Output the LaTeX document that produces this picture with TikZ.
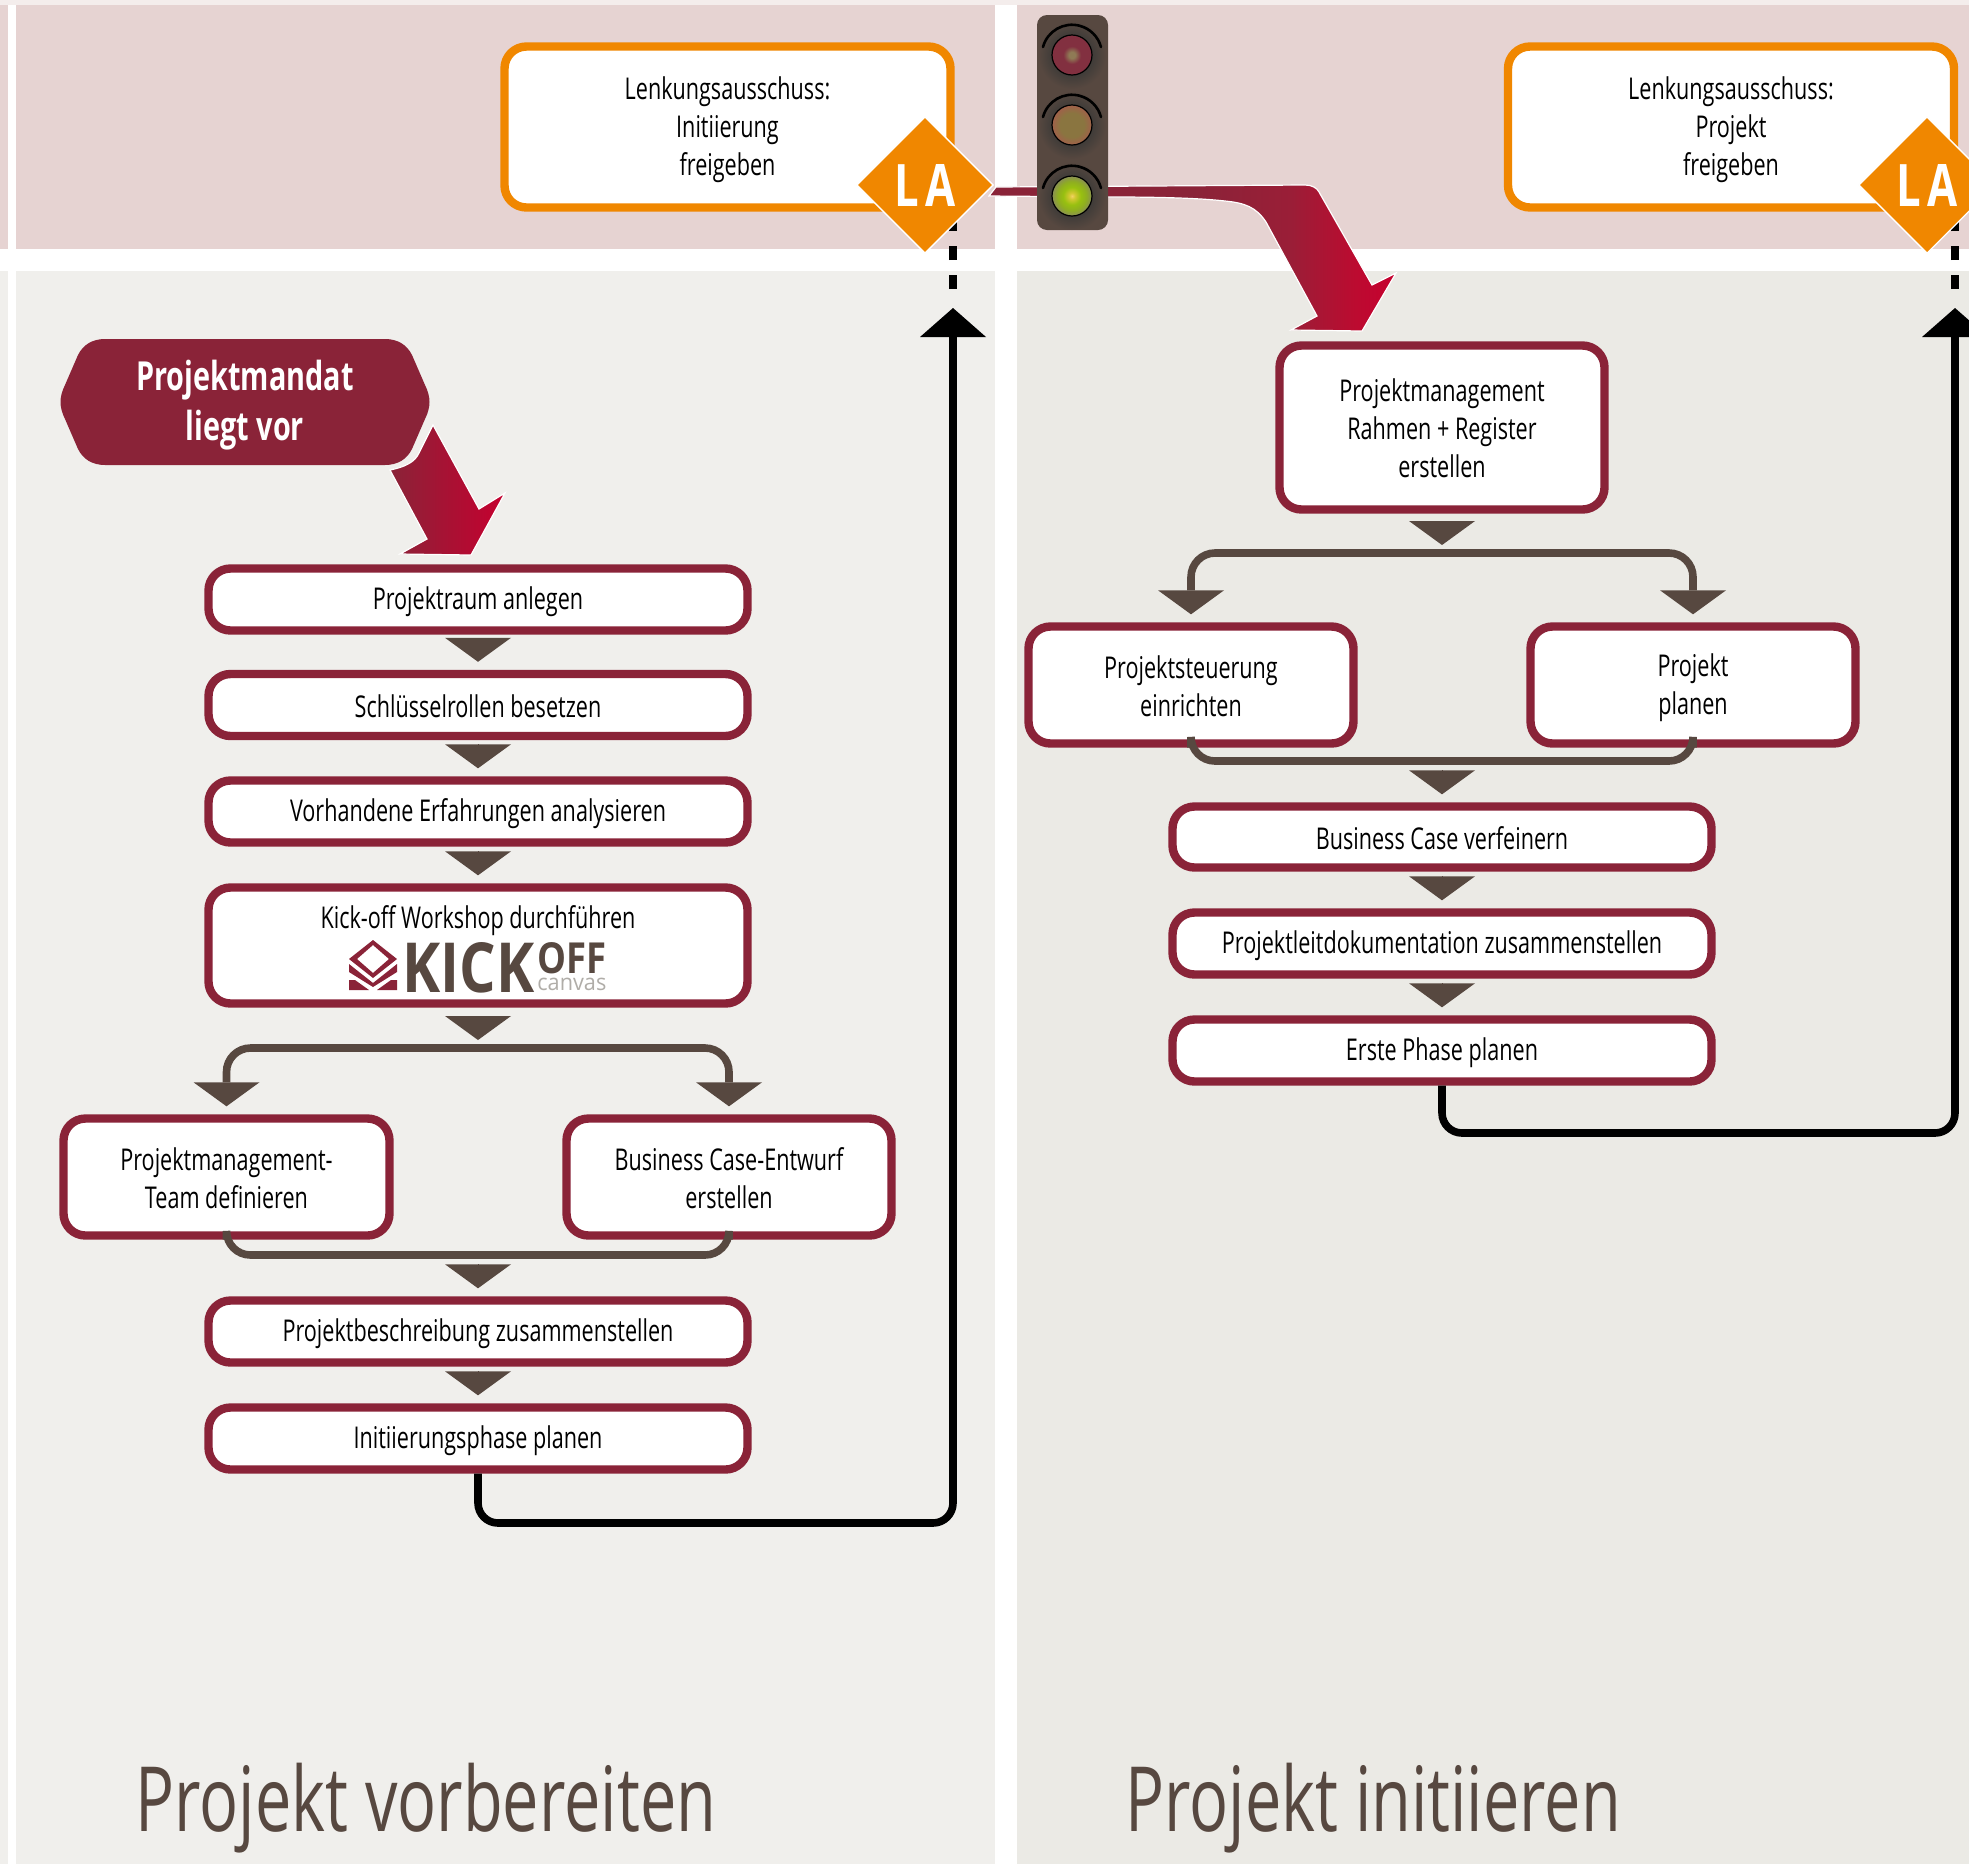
\documentclass[tikz,border=0pt]{standalone}
\usepackage{fontspec}
\usepackage{graphicx}
\usetikzlibrary{arrows.meta,shapes.geometric,calc}
\setmainfont{Open Sans}[FakeStretch=0.72]
\definecolor{crim}{HTML}{8A2338}
\definecolor{hot}{HTML}{C6002F}
\definecolor{brn}{HTML}{574840}
\definecolor{org}{HTML}{F08700}
\definecolor{pnk}{HTML}{E6D3D2}
\definecolor{pnkl}{HTML}{F4EDEC}
\definecolor{gl}{HTML}{F0EFEC}
\definecolor{gr}{HTML}{EBEAE5}
\definecolor{lgray}{HTML}{B0ADA8}
\definecolor{arrA}{HTML}{9A1E37}
\definecolor{arrB}{HTML}{BC0B30}
\definecolor{lrA}{HTML}{8F7A55}
\definecolor{lrB}{HTML}{823040}
\definecolor{laA}{HTML}{8A7540}
\definecolor{laB}{HTML}{A0604A}
\definecolor{lgA}{HTML}{F2D264}
\definecolor{lgB}{HTML}{D0C830}
\definecolor{lgC}{HTML}{98C010}
\definecolor{lgD}{HTML}{8FAE20}
\definecolor{lgE}{HTML}{8A8F55}
\definecolor{halo}{HTML}{3E3B38}
\pgfdeclarehorizontalshading{bigred}{100bp}{color(0bp)=(crim); color(50bp)=(crim); color(62bp)=(arrA); color(70bp)=(arrB); color(75bp)=(hot); color(100bp)=(hot)}
\pgfdeclareradialshading{lampred}{\pgfpoint{0bp}{0bp}}{color(0bp)=(lrA); color(4bp)=(lrA); color(11bp)=(lrB); color(50bp)=(lrB)}
\pgfdeclareradialshading{lampamb}{\pgfpoint{0bp}{0bp}}{color(0bp)=(laA); color(15bp)=(laA); color(25bp)=(laB); color(50bp)=(laB)}
\pgfdeclareradialshading{lampgrn}{\pgfpoint{0bp}{0bp}}{color(0bp)=(lgA); color(4bp)=(lgB); color(11bp)=(lgC); color(18bp)=(lgD); color(25bp)=(lgE); color(50bp)=(lgE)}
\pgfdeclareradialshading{lamphalo}{\pgfpoint{0bp}{0bp}}{color(0bp)=(halo); color(14bp)=(halo); color(25bp)=(brn); color(50bp)=(brn)}
\newcommand\st{\rule[-2pt]{0pt}{16pt}}
\newcommand\stm{\rule[-3pt]{0pt}{21pt}}
\tikzset{
 flowbox/.style={draw=crim,fill=white,line width=4.2pt,rounded corners=11pt,align=center,inner sep=0pt,font=\fontsize{15}{19}\selectfont},
 gatebox/.style={flowbox,draw=org},
 flowline/.style={draw=brn,line width=3.8pt,rounded corners=12pt},
 drop/.style={draw=brn,line width=0.1pt,shorten <=5pt,shorten >=4pt,-{Triangle[width=33pt,length=12pt,line width=0pt,fill=brn]}},
 forkline/.style={flowline,shorten <=4pt,shorten >=4pt,{Triangle[width=33pt,length=12pt,line width=0pt,fill=brn]}-{Triangle[width=33pt,length=12pt,line width=0pt,fill=brn]}},
 loopline/.style={draw=black,line width=3.8pt,rounded corners=10pt,-{Triangle[width=33pt,length=14.5pt,line width=0pt,fill=black]}},
 gateline/.style={draw=black,line width=3.8pt,dash pattern=on 7.25pt off 7.25pt},
 ladiamond/.style={diamond,aspect=1,fill=org,draw=white,line width=0.7pt,minimum width=68.5pt,minimum height=68.5pt,inner sep=0pt,text=white},
 titletext/.style={anchor=base west,inner sep=0pt,text=brn,font=\fontsize{45}{50}\selectfont},
 bulb/.style={draw=black,line width=0.6pt},
 redarrow/.style={draw=white,line width=0.6pt},
}
\newcommand\flowbox[6]{\node[flowbox,minimum width=(#4+3)*0.5pt,minimum height=(#5+3)*0.5pt] (#1) at (#2,#3) {\st #6\st};}
\newcommand\lamp[2]{%
 \shade[shading=lamphalo] (1072,#1) circle (34);
 \draw[black,line width=1.3pt,line cap=round] ($(1072,#1)+(-29,-8)$) arc[start angle=165,end angle=15,radius=15pt];
 \shade[shading=#2] (1072,#1) circle (20);
 \draw[bulb] (1072,#1) circle (20);}
\begin{document}
\begin{tikzpicture}[x=0.5pt,y=-0.5pt]
\useasboundingbox (0,0) rectangle (1969,1864);
\clip (0,0) rectangle (1969,1864);
\fill[white] (0,0) rectangle (1969,1864);
% panels
\fill[pnkl] (0,0) rectangle (1969,5);
\fill[pnk] (0,5) rectangle (8,249);
\fill[gl] (0,271) rectangle (8,1864);
\fill[pnk] (16,5) rectangle (994.5,249);
\fill[pnk] (1017,5) rectangle (1969,249);
\fill[gl] (16,271) rectangle (994.5,1864);
\fill[gr] (1017,271) rectangle (1969,1864);
% titles
\node[titletext] (tleft) at (135,1831) {Projekt vorbereiten};
\node[titletext] (tright) at (1125,1831) {Projekt initiieren};
% mandate
\fill[crim] (105,339) -- (385,339) .. controls (398,339) and (407,345) .. (412,355)
 -- (425,385) .. controls (431,397) and (431,407) .. (425,419) -- (412,449)
 .. controls (407,459) and (398,465) .. (385,465) -- (105,465)
 .. controls (92,465) and (83,459) .. (78,449) -- (65,419)
 .. controls (59,407) and (59,397) .. (65,385) -- (78,355)
 .. controls (83,345) and (92,339) .. (105,339) -- cycle;
\node[align=center,text=white,inner sep=0pt,font=\fontsize{20}{25}\bfseries\selectfont] (mandat) at (245,402) {\stm Projektmandat\\liegt vor\stm};
\shadedraw[redarrow,left color=crim,right color=hot] (433,425) -- (479,509) -- (505,493) -- (471,555) -- (400,554) -- (427,539) -- (390,470) .. controls (405,467) and (415,462) .. (419,453) -- cycle;
% left boxes
\flowbox{raum}{478}{599.5}{536}{59}{Projektraum anlegen}
\flowbox{rollen}{478}{705}{536}{59}{Schlüsselrollen besetzen}
\flowbox{erfahr}{478}{811.5}{536}{59}{Vorhandene Erfahrungen analysieren}
\flowbox{kick}{478}{945.5}{536}{113}{}
\node[font=\fontsize{15}{19}\selectfont,inner sep=0pt] (kicklabel) at (478,918) {\st Kick-off Workshop durchführen};
\flowbox{pmteam}{226.5}{1177}{323}{114}{Projektmanagement-\\Team definieren}
\flowbox{bcent}{729}{1177}{322}{114}{Business Case-Entwurf\\erstellen}
\flowbox{pbesch}{478}{1331.5}{536}{59}{Projektbeschreibung zusammenstellen}
\flowbox{initph}{478}{1438.5}{536}{59}{Initiierungsphase planen}
% kickoff logo
\node[inner sep=0pt,anchor=north west,text=brn] (logokick) at (402,942) {\resizebox{66pt}{25pt}{\bfseries KICK}};
\node[inner sep=0pt,anchor=north west,text=brn] (logooff) at (537,942) {\resizebox{34.5pt}{15.5pt}{\bfseries OFF}};
\node[inner sep=0pt,anchor=south west,text=lgray] (logocanvas) at (537,991) {\resizebox{34.5pt}{6.2pt}{canvas}};
\fill[crim,even odd rule] (373,940) -- (397,959) -- (373,978) -- (349,959) -- cycle (373,945) -- (357,959) -- (373,973) -- (389,959) -- cycle;
\fill[crim] (349,964) -- (373,983) -- (397,964) -- (397,972) -- (373,987) -- (349,972) -- cycle;
\fill[crim] (349,980) -- (355,980) -- (369,990) -- (349,990) -- cycle (397,980) -- (391,980) -- (377,990) -- (397,990) -- cycle;
% left connectors
\coordinate (splitL) at (478,1048);
\coordinate (joinL) at (478,1255);
\draw[drop] (raum.south) -- (rollen.north);
\draw[drop] (rollen.south) -- (erfahr.north);
\draw[drop] (erfahr.south) -- (kick.north);
\draw[drop] (kick.south) -- (splitL);
\draw[forkline] (pmteam.north) |- (splitL) -| (bcent.north);
\draw[flowline] (pmteam.south) |- (joinL) -| (bcent.south);
\draw[drop] (joinL) -- (pbesch.north);
\draw[drop] (pbesch.south) -- (initph.north);
% gate left
\node[gatebox,minimum width=446*0.5pt,minimum height=161*0.5pt] (gateL) at (727.5,127) {\st Lenkungsausschuss:\\Initiierung\\freigeben\st};
\coordinate (loopLa) at (953,1523);
\coordinate (gapL) at (953,289);
\coordinate (backL) at (953,308);
\draw[loopline] (initph.south) |- (loopLa) -- (backL);
\draw[gateline] (gapL) -- (gapL |- gateL.south);
% right boxes
\flowbox{rahmen}{1442}{427.5}{322}{161}{Projektmanagement\\Rahmen + Register\\erstellen}
\flowbox{steuer}{1191}{685}{322}{114}{Projektsteuerung\\einrichten}
\flowbox{planen}{1693}{685}{322}{114}{Projekt\\planen}
\flowbox{verfein}{1442}{837}{536}{58}{Business Case verfeinern}
\flowbox{leitdok}{1442}{943.5}{536}{59}{Projektleitdokumentation zusammenstellen}
\flowbox{ersteph}{1442}{1050.5}{536}{59}{Erste Phase planen}
\coordinate (splitR) at (1442,553);
\coordinate (joinR) at (1442,761);
\draw[drop] (rahmen.south) -- (splitR);
\draw[forkline] (steuer.north) |- (splitR) -| (planen.north);
\draw[flowline] (steuer.south) |- (joinR) -| (planen.south);
\draw[drop] (joinR) -- (verfein.north);
\draw[drop] (verfein.south) -- (leitdok.north);
\draw[drop] (leitdok.south) -- (ersteph.north);
% gate right
\node[gatebox,minimum width=446*0.5pt,minimum height=161*0.5pt] (gateR) at (1731,127) {\st Lenkungsausschuss:\\Projekt\\freigeben\st};
\coordinate (loopRa) at (1955,1133);
\coordinate (gapR) at (1955,289);
\coordinate (backR) at (1955,308);
\draw[loopline] (ersteph.south) |- (loopRa) -- (backR);
\draw[gateline] (gapR) -- (gapR |- gateR.south);
% big arrow
\shadedraw[redarrow,shading=bigred] (989,196) -- (996,187) -- (1305,185) .. controls (1312,185) and (1317,188) .. (1319,192) -- (1372,285) -- (1396,273) -- (1362,331) -- (1291,330) -- (1317,316) -- (1266,222) .. controls (1256,207) and (1245,203) .. (1225,201) .. controls (1190,197) and (1130,197) .. (1109,197) -- cycle;
% LA
\node[ladiamond] (laL) at (925,185) {\resizebox{31pt}{21pt}{\bfseries L\kern.12em A}};
\node[ladiamond] (laR) at (1927,185) {\resizebox{31pt}{21pt}{\bfseries L\kern.12em A}};
% traffic light
\fill[brn,rounded corners=5pt] (1037,15) rectangle (1108,230);
\lamp{55}{lampred}
\lamp{125}{lampamb}
\lamp{196}{lampgrn}
\end{tikzpicture}
\end{document}
